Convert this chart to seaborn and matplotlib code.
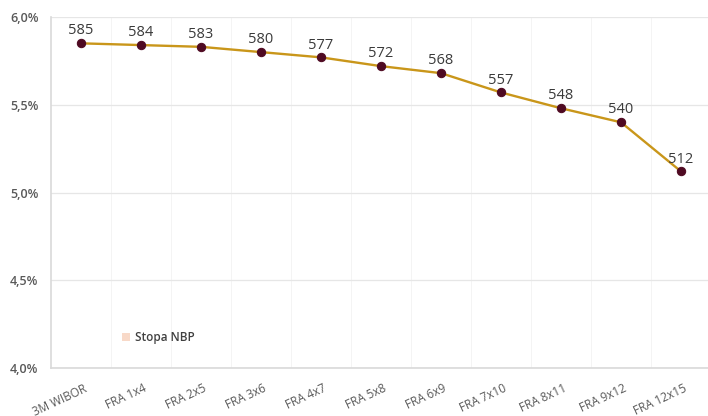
import matplotlib
matplotlib.use("Agg")
import matplotlib.pyplot as plt
import seaborn as sns
import pandas as pd
from matplotlib.patches import Patch
from matplotlib.ticker import FuncFormatter, MultipleLocator
from matplotlib.transforms import ScaledTranslation

categories = ["3M WIBOR", "FRA 1x4", "FRA 2x5", "FRA 3x6", "FRA 4x7", "FRA 5x8",
              "FRA 6x9", "FRA 7x10", "FRA 8x11", "FRA 9x12", "FRA 12x15"]
rates_bp = [585, 584, 583, 580, 577, 572, 568, 557, 548, 540, 512]
legend_label = "Stopa NBP"

df = pd.DataFrame({"cat": categories, "rate": [v / 100 for v in rates_bp]})
df["pos"] = range(len(df))

sns.set_style("white")
plt.rcParams["font.family"] = ["Open Sans", "DejaVu Sans"]

fig = plt.figure(figsize=(7.08, 4.16), dpi=100)
ax = fig.add_axes([51 / 708, 48 / 416, 657 / 708, 351 / 416])

sns.lineplot(data=df, x="pos", y="rate", ax=ax, color="#c9961a", linewidth=1.7,
             marker="o", markersize=6, markerfacecolor="#4f0a22",
             markeredgecolor="#4f0a22", zorder=3)

for x, v, lab in zip(df["pos"], df["rate"], rates_bp):
    ax.annotate(str(lab), (x, v), xytext=(0, 3.5), textcoords="offset points",
                ha="center", va="bottom", fontsize=10.5, color="#3a3a3a")

ax.set_xlim(-0.5, 10.45)
ax.set_ylim(4.0, 6.0)
ax.yaxis.set_major_locator(MultipleLocator(0.5))
ax.yaxis.set_major_formatter(FuncFormatter(lambda v, p: f"{v:.1f}%".replace(".", ",")))
ax.set_xticks(df["pos"])
ax.set_xticklabels(categories, rotation=25, ha="right", va="top", rotation_mode="anchor",
                   fontsize=8.5, color="#595959")
ax.tick_params(axis="y", labelsize=9, labelcolor="#595959", length=0, pad=9)
for t in ax.get_yticklabels():
    t.set_fontweight("semibold")
ax.tick_params(axis="x", length=0, pad=10)
off = ScaledTranslation(2 / 100, 0, fig.dpi_scale_trans)
for t in ax.get_xticklabels():
    t.set_transform(t.get_transform() + off)

ax.set_xlabel("")
ax.set_ylabel("")
ax.grid(axis="y", color="#e6e6e6", linewidth=0.9)
for b in [i + 0.5 for i in range(len(categories) - 1)]:
    ax.axvline(b, color="#f2f2f2", linewidth=0.6, zorder=0)
for s in ["top", "right"]:
    ax.spines[s].set_visible(False)
ax.spines["left"].set_color("#d9d9d9")
ax.spines["left"].set_linewidth(1.2)
ax.spines["bottom"].set_color("#d9d9d9")
ax.spines["bottom"].set_linewidth(1.2)

handle = Patch(facecolor="#f8d9c8", edgecolor="none")
ax.legend([handle], [legend_label], loc="lower left", bbox_to_anchor=(0.092, 0.037),
          frameon=False, handlelength=0.7, handleheight=0.7,
          handletextpad=0.4, prop={"weight": "semibold", "size": 8.5})
for t in ax.get_legend().get_texts():
    t.set_color("#404040")

fig.savefig("out.png", dpi=100)
